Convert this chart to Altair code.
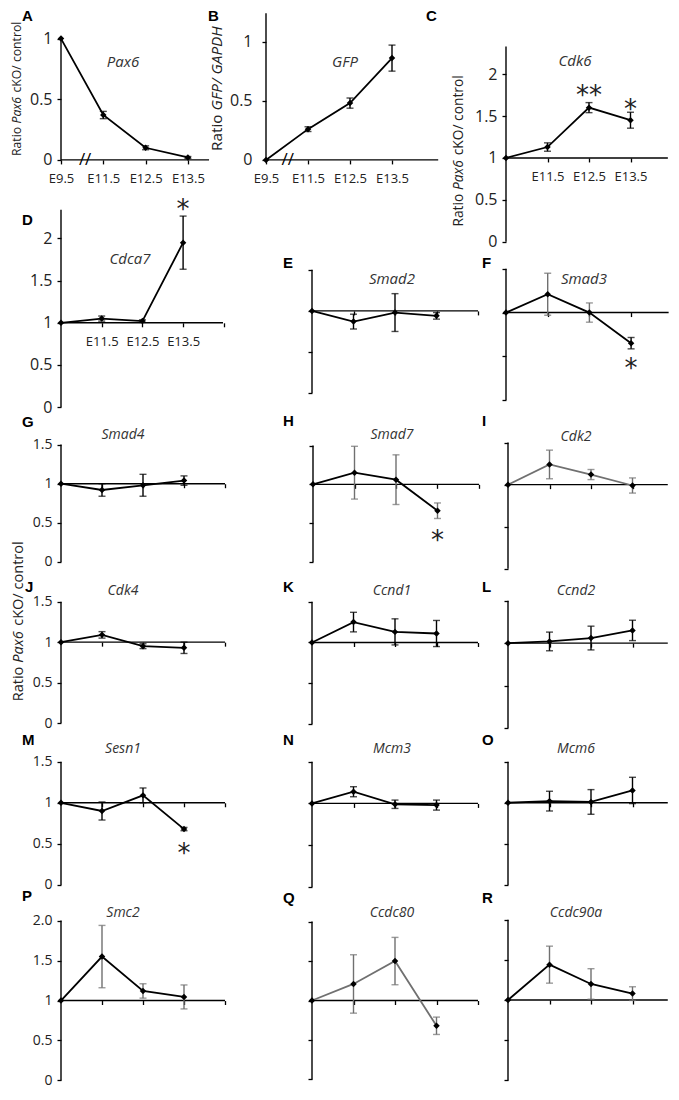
import altair as alt
import pandas as pd

FONT = "Open Sans"
GRAY = "#707070"

# ---------------- data ----------------
STAGES = ["E9.5", "E11.5", "E12.5", "E13.5"]
GENES = ["Pax6", "GFP", "Cdk6", "Cdca7", "Smad2", "Smad3", "Smad4", "Smad7", "Cdk2",
         "Cdk4", "Ccnd1", "Ccnd2", "Sesn1", "Mcm3", "Mcm6", "Smc2", "Ccdc80", "Ccdc90a"]
LETTERS = list("ABCDEFGHIJKLMNOPQR")

pax6_mean = [1.00, 0.37, 0.10, 0.02]
pax6_err = [None, 0.03, 0.016, 0.008]
gfp_mean = [0.00, 0.26, 0.48, 0.86]
gfp_err = [None, 0.02, 0.043, 0.11]
cdk6_mean = [1.00, 1.13, 1.60, 1.45]
cdk6_err = [None, 0.05, 0.06, 0.095]
cdca7_mean = [1.00, 1.05, 1.02, 1.95]
cdca7_err = [None, 0.03, 0.015, 0.315]
smad2_mean = [1.00, 0.87, 0.98, 0.94]
smad2_err = [None, 0.09, 0.23, 0.04]
smad3_mean = [1.00, 1.21, 1.00, 0.65]
smad3_err = [None, 0.24, 0.11, 0.065]
smad4_mean = [1.00, 0.92, 0.98, 1.04]
smad4_err = [None, 0.08, 0.14, 0.06]
smad7_mean = [1.00, 1.15, 1.06, 0.66]
smad7_err = [None, 0.34, 0.32, 0.10]
cdk2_mean = [1.00, 1.24, 1.12, 0.99]
cdk2_err = [None, 0.17, 0.06, 0.09]
cdk4_mean = [1.00, 1.09, 0.95, 0.93]
cdk4_err = [None, 0.04, 0.03, 0.07]
ccnd1_mean = [1.00, 1.25, 1.13, 1.11]
ccnd1_err = [None, 0.12, 0.16, 0.16]
ccnd2_mean = [1.00, 1.02, 1.06, 1.15]
ccnd2_err = [None, 0.11, 0.14, 0.12]
sesn1_mean = [1.00, 0.90, 1.09, 0.68]
sesn1_err = [None, 0.11, 0.09, 0.02]
mcm3_mean = [1.00, 1.14, 0.99, 0.98]
mcm3_err = [None, 0.06, 0.05, 0.06]
mcm6_mean = [1.00, 1.02, 1.01, 1.15]
mcm6_err = [None, 0.12, 0.15, 0.16]
smc2_mean = [1.00, 1.55, 1.12, 1.045]
smc2_err = [None, 0.39, 0.09, 0.15]
ccdc80_mean = [1.00, 1.21, 1.50, 0.68]
ccdc80_err = [None, 0.37, 0.30, 0.11]
ccdc90a_mean = [1.00, 1.44, 1.20, 1.08]
ccdc90a_err = [None, 0.23, 0.19, 0.085]

MEANS = dict(zip(GENES, [pax6_mean, gfp_mean, cdk6_mean, cdca7_mean, smad2_mean, smad3_mean,
                         smad4_mean, smad7_mean, cdk2_mean, cdk4_mean, ccnd1_mean, ccnd2_mean,
                         sesn1_mean, mcm3_mean, mcm6_mean, smc2_mean, ccdc80_mean, ccdc90a_mean]))
ERRS = dict(zip(GENES, [pax6_err, gfp_err, cdk6_err, cdca7_err, smad2_err, smad3_err,
                        smad4_err, smad7_err, cdk2_err, cdk4_err, ccnd1_err, ccnd2_err,
                        sesn1_err, mcm3_err, mcm6_err, smc2_err, ccdc80_err, ccdc90a_err]))
SIG = {"Cdk6": ["", "", "**", "*"], "Cdca7": ["", "", "", "*"], "Smad3": ["", "", "", "*"],
       "Smad7": ["", "", "", "*"], "Sesn1": ["", "", "", "*"]}

# ---------------- layout (reference-page pixels) ----------------
KY = 0.9865  # slight vertical squeeze so the figure fits the window with the page margin


def T(y):
    return 8 + (y - 8) * KY


def L(**kw):
    return kw


Y15 = [0, 0.5, 1, 1.5]
Y2 = [0, 0.5, 1, 1.5, 2]
LAYOUT = {
    "Pax6": L(cell=(8, 8, 218, 192), ax=61, step=42.3, ya=(0, 162), yb=(1, 39), ytop=1, base=0,
              xend=3.5, yt=[0, 0.5, 1], ylab=True, ylfs=16, xt=[0, 1, 2, 3], xlab=True, brk=0.57,
              title=(123, 63), tfs=15, lpos=(22, 16)),
    "GFP": L(cell=(226, 8, 220, 250), ax=266, step=42, ya=(0, 162), yb=(1, 42), ytop=1.24, base=0,
             xend=4.1, yt=[0, 0.5, 1], ylab=True, ylfs=16, ylpad=10, xt=[0, 1, 2, 3], xlab=True,
             brk=0.52, title=(345, 63), tfs=15, lpos=None),
    "Cdk6": L(cell=(446, 8, 224, 250), ax=506, step=41.5, ya=(0, 245), yb=(2, 75), ytop=2.33,
              base=1, xend=3.9, yt=Y2, ylab=True, ylfs=16, xt=[1, 2, 3], xlab=True,
              title=(575, 62), tfs=15, lpos=(426, 16), stary={2: 1.82, 3: 1.66}),
    "Cdca7": L(cell=(8, 200, 218, 218), ax=61, step=40.7, ya=(0, 412), yb=(2, 241), ytop=2.34,
               base=1, xend=3.98, yt=Y2, ylab=True, ylfs=16, xt=[1, 2, 3, 4], xlab=True,
               title=(130, 262), tfs=15, lpos=(22, 222), stary={3: 2.42}),
    "Smad2": L(cell=(226, 258, 255, 157), ax=312, step=41.5, ya=(0, 397), yb=(1.5, 272),
               title=(392, 281), tfs=15, lpos=(283, 265)),
    "Smad3": L(cell=(481, 258, 189, 157), ax=506, step=41.7, ya=(0, 404), yb=(1.5, 271),
               xend=3.9, xt=[1, 2, 3], title=(584, 281), tfs=15, lpos=(482, 265), stary={3: 0.44}),
    "Smad4": L(cell=(8, 418, 218, 168), ax=61, step=41, ya=(0, 568), yb=(1.5, 449), ylab=True,
               title=(123, 439), lpos=(22, 426)),
    "Smad7": L(cell=(226, 415, 255, 171), ax=313, step=41.5, ya=(0, 568), yb=(1.5, 450),
               title=(392, 439), lpos=(283, 425), stary={3: 0.36}),
    "Cdk2": L(cell=(481, 415, 189, 171), ax=508, step=41.5, ya=(0, 575), yb=(1.5, 447),
              xend=3.85, xt=[1, 2, 3], title=(576, 441), lpos=(482, 425)),
    "Cdk4": L(cell=(8, 586, 218, 159), ax=61, step=41, ya=(0, 731), yb=(1.5, 608), ylab=True,
              title=(123, 597), lpos=(25, 593)),
    "Ccnd1": L(cell=(226, 586, 255, 159), ax=312, step=41.5, ya=(0, 732), yb=(1.5, 608),
               title=(392, 597), lpos=(283, 593)),
    "Ccnd2": L(cell=(481, 586, 189, 159), ax=508, step=41.5, ya=(0, 736), yb=(1.5, 607),
               xend=3.85, xt=[1, 2, 3], title=(576, 597), lpos=(482, 593)),
    "Sesn1": L(cell=(8, 745, 218, 158), ax=61, step=41, ya=(0, 895), yb=(1.5, 770), ylab=True,
               title=(123, 757), lpos=(22, 748), stary={3: 0.456}),
    "Mcm3": L(cell=(226, 745, 255, 158), ax=312, step=41.5, ya=(0, 897), yb=(1.5, 770),
              title=(392, 757), lpos=(283, 748)),
    "Mcm6": L(cell=(481, 745, 189, 158), ax=508, step=41.5, ya=(0, 895), yb=(1.5, 770),
              xend=3.85, xt=[1, 2, 3], title=(576, 757), lpos=(482, 748)),
    "Smc2": L(cell=(8, 903, 218, 197), ax=61, step=41, ya=(0, 1093), yb=(2, 931), ytop=2, yt=Y2,
              ylab=True, title=(123, 923), lpos=(22, 906)),
    "Ccdc80": L(cell=(226, 903, 255, 197), ax=312, step=41.5, ya=(0, 1092), yb=(2, 932), ytop=2,
                yt=Y2, title=(392, 923), lpos=(283, 908)),
    "Ccdc90a": L(cell=(481, 903, 189, 197), ax=508, step=41.5, ya=(0, 1093), yb=(2, 930), ytop=2,
                 yt=Y2, xend=3.85, xt=[1, 2, 3], title=(576, 923), lpos=(482, 908)),
}
DEFAULTS = dict(ytop=1.5, base=1, xend=4, yt=Y15, ylab=False, ylfs=14, ylpad=5, xt=[1, 2, 3, 4],
                xlab=False, brk=None, tfs=14, stary={})

STYLE = {
    "Smad3": dict(err=[GRAY, GRAY, GRAY, "black"]),
    "Smad7": dict(err=[GRAY] * 4),
    "Cdk2": dict(line=GRAY, err=[GRAY] * 4),
    "Smc2": dict(err=[GRAY] * 4),
    "Ccdc80": dict(line=GRAY, err=[GRAY] * 4),
    "Ccdc90a": dict(err=[GRAY] * 4),
}

# y-axis titles (composite, italic gene names)
OPEN_W = {' ': 0.26, 'R': 0.635, 'a': 0.556, 't': 0.344, 'i': 0.253, 'o': 0.604, 'P': 0.615,
          'x': 0.525, '6': 0.572, 'c': 0.476, 'K': 0.59, 'O': 0.78, '/': 0.377, 'n': 0.614,
          'r': 0.408, 'l': 0.253, 'G': 0.722, 'F': 0.525, 'A': 0.633, 'D': 0.742, 'H': 0.76}
PAX_TITLE = [("Ratio", "normal"), ("Pax6", "italic"), ("cKO/ control", "normal")]
GFP_TITLE = [("Ratio", "normal"), ("GFP/ GAPDH", "italic")]
YTITLES = {
    "Pax6": [(PAX_TITLE, 17, 90, 136), (GFP_TITLE, 217, 86, 134)],
    "Cdk6": [(PAX_TITLE, 459, 153, 153)],
    "Cdk4": [(PAX_TITLE, 19, 628, 162)],
}


def tw(s):
    return sum(OPEN_W.get(ch, 0.56) for ch in s)


def ytitle_layers(pieces, cx, cy, length, x0, y0p):
    length = length * KY
    em = sum(tw(t) for t, _ in pieces) + OPEN_W[' '] * (len(pieces) - 1)
    fs = length / em
    start = T(cy) + length / 2
    out, off = [], 0.0
    for t, style in pieces:
        out.append(alt.Chart(pd.DataFrame({"t": [t]})).mark_text(
            angle=270, align="left", baseline="middle", fontSize=fs, fontStyle=style,
            color="#222", font=FONT).encode(
            text="t:N", x=alt.value(cx - x0), y=alt.value(start - off - y0p)))
        off += (tw(t) + OPEN_W[' ']) * fs
    return out


STAGE_EXPR = "[" + ",".join("'%s'" % s for s in STAGES) + "]"


def letter_layer(letter, lx, ly, x0, y0p):
    return alt.Chart(pd.DataFrame({"t": [letter]})).mark_text(
        font="Liberation Sans", fontWeight="bold", fontSize=15, align="left",
        baseline="middle", color="black").encode(
        text="t:N", x=alt.value(lx - x0), y=alt.value(T(ly) - y0p))


def build_panel(gene, letter):
    Ly = dict(DEFAULTS)
    Ly.update(LAYOUT[gene])
    st = STYLE.get(gene, {})
    x0, y0, w, h = Ly["cell"]
    y0p, h = T(y0), T(y0 + h) - T(y0)
    step = Ly["step"]
    xlo = (x0 - Ly["ax"]) / step
    xhi = xlo + w / step
    (va, pa), (vb, pb) = Ly["ya"], Ly["yb"]
    pa, pb = T(pa), T(pb)
    k = (vb - va) / (pb - pa)
    yhi = va + (y0p - pa) * k
    ylo = va + (y0p + h - pa) * k
    base_px = pa + (Ly["base"] - va) / k
    xs = alt.Scale(domain=[xlo, xhi], nice=False, zero=False)
    ys = alt.Scale(domain=[ylo, yhi], nice=False, zero=False)

    xax = dict(values=Ly["xt"], labels=Ly["xlab"], domain=False, grid=False, ticks=True, tickSize=4,
               tickColor="black", tickWidth=1.3, offset=-(y0p + h - base_px), title=None,
               labelFontSize=13, labelPadding=9, labelColor="#222", labelFlush=False,
               labelOverlap=False, labelFont=FONT)
    if Ly["xlab"]:
        xax["labelExpr"] = "datum.value < %d ? %s[datum.value] : ''" % (len(STAGES), STAGE_EXPR)
    yax = dict(values=Ly["yt"], labels=Ly["ylab"], domain=False, grid=False, ticks=True, tickSize=4,
               tickColor="black", tickWidth=1.3, offset=-(Ly["ax"] - x0), title=None,
               labelFontSize=Ly["ylfs"], labelPadding=Ly["ylpad"], labelColor="#222",
               labelFlush=False, labelOverlap=False, labelFont=FONT, format="~g")
    if Ly["ylab"] and max(Ly["yt"]) == 2 and Ly["ytop"] == 2:
        yax["labelExpr"] = "datum.value == 2 ? '2.0' : datum.label"
    X = alt.X("cx:Q", scale=xs, axis=alt.Axis(**xax))
    Y = alt.Y("cy:Q", scale=ys, axis=alt.Axis(**yax))

    layers = []
    layers.append(alt.Chart(pd.DataFrame({"cx": [0.0], "cy": [0.0], "cy2": [Ly["ytop"]]}))
                  .mark_rule(color="black", strokeWidth=1.4).encode(x=X, y=Y, y2="cy2:Q"))
    layers.append(alt.Chart(pd.DataFrame({"cx": [0.0], "cx2": [Ly["xend"]], "cy": [Ly["base"]]}))
                  .mark_rule(color="black", strokeWidth=1.4).encode(x=X, x2="cx2:Q", y=Y))

    means, errs = MEANS[gene], ERRS[gene]
    df = pd.DataFrame({"cx": [float(i) for i in range(len(STAGES))], "cy": means})
    layers.append(alt.Chart(df).mark_line(color=st.get("line", "black"), strokeWidth=1.8)
                  .encode(x=X, y=Y))
    ecol = st.get("err", ["black"] * 4)
    rows, caps = [], []
    for i, (m, e) in enumerate(zip(means, errs)):
        if e is None:
            continue
        rows.append({"cx": float(i), "cy": m - e, "cy2": m + e, "col": ecol[i]})
        caps.append({"cx": float(i), "cy": m - e, "col": ecol[i]})
        caps.append({"cx": float(i), "cy": m + e, "col": ecol[i]})
    layers.append(alt.Chart(pd.DataFrame(rows)).mark_rule(strokeWidth=1.4)
                  .encode(x=X, y=Y, y2="cy2:Q", color=alt.Color("col:N", scale=None)))
    layers.append(alt.Chart(pd.DataFrame(caps)).mark_tick(orient="horizontal", size=7, thickness=1.4)
                  .encode(x=X, y=Y, color=alt.Color("col:N", scale=None)))
    layers.append(alt.Chart(df).mark_point(shape="diamond", filled=True, size=42, color="black",
                                           opacity=1).encode(x=X, y=Y))

    if gene in SIG:
        srows = [{"cx": float(i), "cy": Ly["stary"][i], "t": s}
                 for i, s in enumerate(SIG[gene]) if s]
        layers.append(alt.Chart(pd.DataFrame(srows)).mark_text(
            font="DejaVu Sans", fontSize=26, baseline="middle", dy=7, color="#222")
            .encode(x=X, y=Y, text="t:N"))
    if Ly["brk"] is not None:
        layers.append(alt.Chart(pd.DataFrame({"cx": [Ly["brk"]], "cy": [0.0], "t": ["//"]}))
                      .mark_text(fontSize=17, baseline="middle", color="black", font=FONT)
                      .encode(x=X, y=Y, text="t:N"))

    tx, ty = Ly["title"]
    layers.append(alt.Chart(pd.DataFrame({"t": [gene]})).mark_text(
        fontStyle="italic", fontSize=Ly["tfs"], color="#333", baseline="middle", font=FONT)
        .encode(text="t:N", x=alt.value(tx - x0), y=alt.value(T(ty) - y0p)))
    if Ly["lpos"] is not None:
        layers.append(letter_layer(letter, Ly["lpos"][0], Ly["lpos"][1], x0, y0p))
    if gene == "Pax6":
        # letter B sits in the left column region
        layers.append(letter_layer("B", 208, 16, x0, y0p))
    for pieces, cx, cy, length in YTITLES.get(gene, []):
        layers.extend(ytitle_layers(pieces, cx, cy, length, x0, y0p))

    return alt.layer(*layers).properties(width=w, height=h)


P = {g: build_panel(g, l) for g, l in zip(GENES, LETTERS)}

col1 = alt.vconcat(P["Pax6"], P["Cdca7"], P["Smad4"], P["Cdk4"], P["Sesn1"], P["Smc2"],
                   spacing=0, bounds="flush")
bc = alt.hconcat(P["GFP"], P["Cdk6"], spacing=0, bounds="flush")
ef = alt.hconcat(P["Smad2"], P["Smad3"], spacing=0, bounds="flush")
colH = alt.vconcat(P["Smad7"], P["Ccnd1"], P["Mcm3"], P["Ccdc80"], spacing=0, bounds="flush")
colI = alt.vconcat(P["Cdk2"], P["Ccnd2"], P["Mcm6"], P["Ccdc90a"], spacing=0, bounds="flush")
hi = alt.hconcat(colH, colI, spacing=0)
rest = alt.vconcat(bc, ef, hi, spacing=0)

chart = (alt.hconcat(col1, rest, spacing=0)
         .properties(padding=0)
         .configure(font=FONT)
         .configure_view(strokeWidth=0, stroke="transparent"))

chart.save("out.html", embed_options={"renderer": "svg", "actions": False})
